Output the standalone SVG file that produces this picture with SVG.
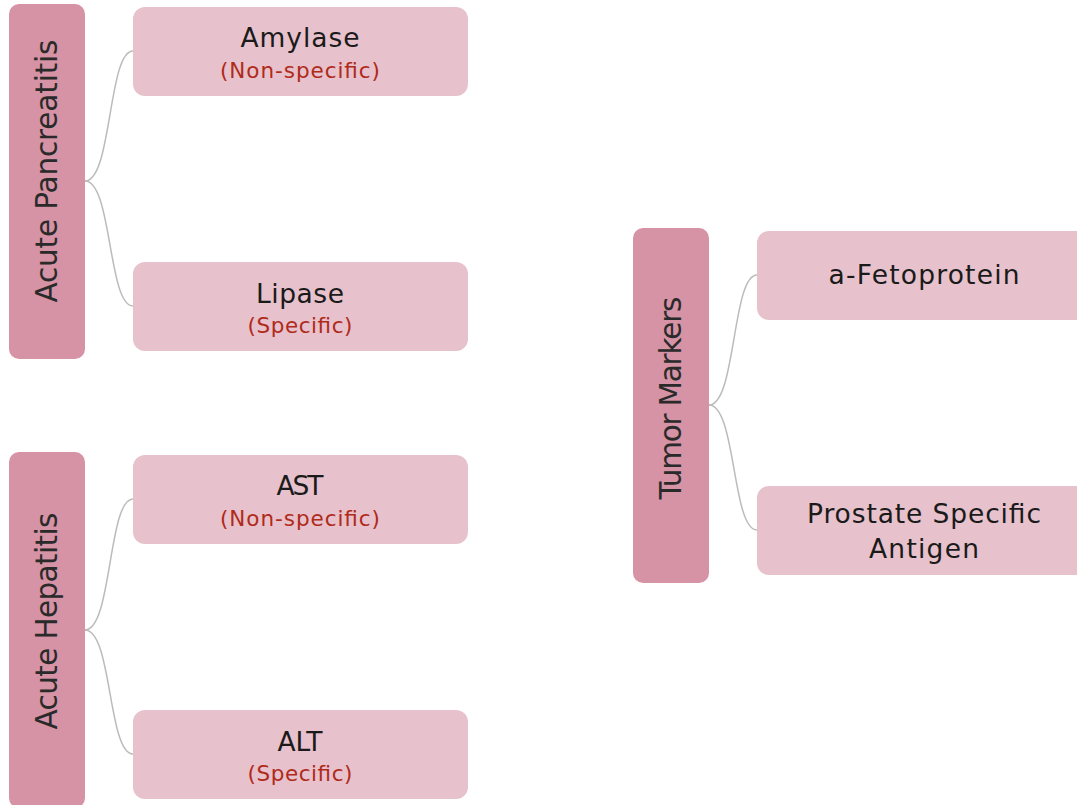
<svg xmlns="http://www.w3.org/2000/svg" width="1077" height="805" viewBox="0 0 1077 805">
<style>
.parent{fill:#D693A5}
.child{fill:#E7C1CB}
.pt{font-family:"DejaVu Sans","Liberation Sans",sans-serif;font-size:29.5px;fill:#2a2a2a;text-anchor:middle}
.ct{font-family:"DejaVu Sans","Liberation Sans",sans-serif;font-size:26.5px;fill:#1a1a1a;text-anchor:middle}
.st{font-family:"DejaVu Sans","Liberation Sans",sans-serif;font-size:21.5px;fill:#B02A1A;text-anchor:middle}
.conn{fill:none;stroke:#BBBBBB;stroke-width:1.5}
</style>
<rect width="1077" height="805" fill="#ffffff"/>
<g id="connectors">
<path class="conn" d="M85,181 C112,181 108,51 133,51"/>
<path class="conn" d="M85,181 C112,181 108,306 133,306"/>
<path class="conn" d="M85,630 C112,630 108,499 133,499"/>
<path class="conn" d="M85,630 C112,630 108,754 133,754"/>
<path class="conn" d="M709,405 C736,405 732,275 757,275"/>
<path class="conn" d="M709,405 C736,405 732,530 757,530"/>
</g>
<g id="acute-pancreatitis">
<rect class="parent" x="9" y="4" width="76" height="355" rx="10"/>
<text class="pt" transform="translate(57,171) rotate(-90)" textLength="263" lengthAdjust="spacing">Acute Pancreatitis</text>
</g>
<g id="amylase">
<rect class="child" x="133" y="7" width="335" height="89" rx="12"/>
<text class="ct" x="300" y="47" textLength="119" lengthAdjust="spacing">Amylase</text>
<text class="st" x="300" y="78" textLength="160" lengthAdjust="spacing">(Non-specific)</text>
</g>
<g id="lipase">
<rect class="child" x="133" y="262" width="335" height="89" rx="12"/>
<text class="ct" x="300" y="303" textLength="88" lengthAdjust="spacing">Lipase</text>
<text class="st" x="300" y="333" textLength="105" lengthAdjust="spacing">(Specific)</text>
</g>
<g id="acute-hepatitis">
<rect class="parent" x="9" y="452" width="76" height="356" rx="10"/>
<text class="pt" transform="translate(57,621) rotate(-90)" textLength="217" lengthAdjust="spacing">Acute Hepatitis</text>
</g>
<g id="ast">
<rect class="child" x="133" y="455" width="335" height="89" rx="12"/>
<text class="ct" x="300" y="495" textLength="47" lengthAdjust="spacing">AST</text>
<text class="st" x="300" y="526" textLength="160" lengthAdjust="spacing">(Non-specific)</text>
</g>
<g id="alt">
<rect class="child" x="133" y="710" width="335" height="89" rx="12"/>
<text class="ct" x="300" y="751" textLength="45" lengthAdjust="spacing">ALT</text>
<text class="st" x="300" y="781" textLength="105" lengthAdjust="spacing">(Specific)</text>
</g>
<g id="tumor-markers">
<rect class="parent" x="633" y="228" width="76" height="355" rx="10"/>
<text class="pt" transform="translate(681,398) rotate(-90)" textLength="203" lengthAdjust="spacing">Tumor Markers</text>
</g>
<g id="afp">
<rect class="child" x="757" y="231" width="335" height="89" rx="12"/>
<text class="ct" x="924" y="284" textLength="191" lengthAdjust="spacing">a-Fetoprotein</text>
</g>
<g id="psa">
<rect class="child" x="757" y="486" width="335" height="89" rx="12"/>
<text class="ct" x="924" y="523" textLength="234" lengthAdjust="spacing">Prostate Specific</text>
<text class="ct" x="924" y="558" textLength="110" lengthAdjust="spacing">Antigen</text>
</g>
</svg>
